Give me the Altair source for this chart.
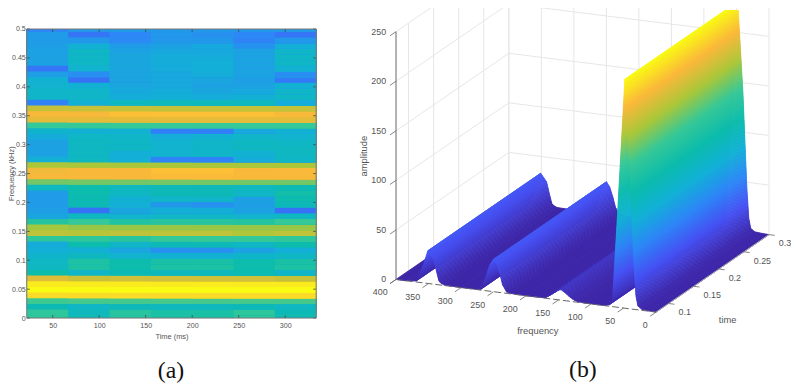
import math
import altair as alt
import pandas as pd

# ---------- values ----------
TIME_EDGES = [22.2, 66.7, 111.1, 155.6, 200.0, 244.4, 288.9, 333.3]
# one row per frequency bin (bottom to top), seven time columns
HEAT = [
    [.60, .46, .58, .54, .54, .60, .47],
    [.60, .45, .58, .54, .54, .60, .47],
    [.48, .43, .46, .45, .45, .47, .44],
    [.63, .64, .64, .64, .64, .64, .64],
    [.94, .94, .94, .94, .94, .94, .94],
    [1.0, 1.0, 1.0, 1.0, 1.0, 1.0, 1.0],
    [.97, .97, .97, .97, .97, .97, .97],
    [.83, .80, .81, .81, .81, .81, .79],
    [.50, .42, .47, .45, .45, .49, .42],
    [.44, .55, .50, .55, .55, .50, .55],
    [.43, .55, .50, .54, .54, .50, .54],
    [.41, .44, .40, .38, .38, .41, .43],
    [.37, .38, .34, .28, .28, .33, .37],
    [.36, .50, .42, .47, .47, .43, .50],
    [.60, .60, .58, .62, .62, .62, .60],
    [.78, .77, .78, .78, .78, .76, .78],
    [.74, .73, .73, .73, .73, .73, .73],
    [.57, .62, .56, .58, .58, .57, .62],
    [.34, .44, .40, .42, .42, .40, .44],
    [.32, .20, .34, .37, .37, .33, .20],
    [.31, .48, .37, .30, .28, .32, .47],
    [.31, .49, .38, .42, .42, .32, .50],
    [.31, .50, .43, .47, .47, .42, .52],
    [.44, .50, .44, .46, .46, .44, .48],
    [.69, .69, .69, .69, .69, .69, .69],
    [.87, .87, .87, .88, .88, .87, .87],
    [.86, .87, .87, .89, .89, .87, .87],
    [.75, .75, .75, .75, .75, .75, .75],
    [.37, .44, .37, .24, .24, .36, .43],
    [.33, .44, .37, .40, .42, .38, .44],
    [.33, .44, .43, .40, .42, .44, .44],
    [.33, .44, .43, .40, .42, .44, .43],
    [.36, .43, .42, .36, .39, .42, .40],
    [.41, .38, .39, .23, .23, .35, .38],
    [.62, .62, .62, .62, .62, .62, .62],
    [.84, .84, .84, .84, .84, .84, .84],
    [.87, .87, .89, .89, .89, .89, .87],
    [.79, .79, .79, .79, .79, .79, .79],
    [.24, .38, .44, .45, .45, .44, .36],
    [.42, .42, .36, .37, .36, .38, .43],
    [.42, .42, .35, .36, .34, .35, .42],
    [.40, .38, .34, .35, .33, .33, .38],
    [.38, .20, .34, .35, .34, .32, .22],
    [.32, .27, .34, .35, .36, .33, .27],
    [.21, .40, .34, .36, .37, .33, .39],
    [.33, .43, .34, .36, .37, .33, .43],
    [.33, .43, .34, .36, .36, .33, .43],
    [.33, .43, .33, .35, .35, .33, .42],
    [.32, .38, .31, .33, .35, .28, .37],
    [.31, .30, .26, .30, .30, .24, .30],
    [.31, .21, .25, .30, .28, .25, .21],
    [.24, .31, .31, .30, .30, .30, .31],
]
HEAT_X_TICKS = [50, 100, 150, 200, 250, 300]
HEAT_Y_TICKS = [0, .05, .1, .15, .2, .25, .3, .35, .4, .45, .5]

# spectrum profile of the surface (frequency, amplitude), read from its front edge
PROFILE_F = [400, 385, 369, 363, 357, 351, 342, 338, 334, 331, 326, 300, 275, 270, 263, 256, 250,
             245, 240, 236, 230, 225, 200, 172, 169, 160, 150, 146, 140, 132, 125, 121, 110, 80,
             72, 67, 60, 48, 40, 34, 31, 28, 22, 10, 0]
PROFILE_A = [0, 0, 1, 9, 20, 33, 25, 14, 4, 2, .5, 0, .2, .6, 11.6, 26, 32.7,
             28, 18, 8, 1.5, .5, 0, .3, 1, 5, 10, 10.5, 8, 4, 1.5, .7, .2, 0,
             1.5, 8, 85, 231, 140, 45, 14, 4, 1, .3, 0]
FREQ_TICKS = [0, 50, 100, 150, 200, 250, 300, 350, 400]
TIME_TICKS = [.1, .15, .2, .25, .3]
TIME_LABELS = ["0.1", "0.15", "0.2", "0.25", "0.3"]
AMP_TICKS = [0, 50, 100, 150, 200, 250]
PEAK = 231.0
T_MIN, T_MAX = 0.075, 0.3

PARULA_STOPS = [0, .125, .25, .375, .5, .625, .75, .875, 1]
PARULA = ["#3e26a8", "#4752f4", "#2d87f7", "#12b1d6", "#0cbcac", "#37c897", "#abc739", "#fbb83a", "#f9fb15"]

# ---------- helpers ----------
W, H = 791, 377
SANS = "Liberation Sans"
SERIF = "Liberation Serif"
GREY = "#555555"
color_scale = alt.Scale(domain=PARULA_STOPS, range=PARULA, interpolate="rgb")
HX = alt.Scale(domain=[TIME_EDGES[0], TIME_EDGES[-1]], range=[19.0, 311.3], nice=False, zero=False)
HY = alt.Scale(domain=[0, .5], range=[311.3, 19.3], nice=False, zero=False)
PX = alt.Scale(domain=[0, W], range=[0, W], nice=False, zero=False)
PY = alt.Scale(domain=[0, H], range=[0, H], nice=False, zero=False)


def project(f, t, z):
    """Orthographic view of the 3-D axes box, returning chart pixels."""
    x = 654.7 - 0.6568 * f + 506.7 * (t - T_MIN)
    y = 305.3 - 0.0825 * f - 348.0 * (t - T_MIN) - 1.0013 * z
    return x, y


# ---------- (a) heat map ----------
dy = 0.5 / 51
cells = []
for k, row in enumerate(HEAT):
    for c, v in enumerate(row):
        # each bin is drawn up to the top of the plot, the next one paints over it: no seams
        cells.append(dict(t0=TIME_EDGES[c], t1=TIME_EDGES[-1],
                          y0=max(0, (k - .5) * dy), y1=.5, v=v))
heat = alt.Chart(pd.DataFrame(cells)).mark_rect().encode(
    x=alt.X("t0:Q", scale=HX, axis=alt.Axis(
        values=HEAT_X_TICKS, offset=-65.7, ticks=False, domain=False, grid=False, labelPadding=4,
        labelFontSize=7.2, labelFont=SANS, labelColor=GREY, title="Time (ms)", titleFont=SANS,
        titleFontSize=7.5, titleFontWeight="normal", titleColor=GREY, titlePadding=3)),
    x2="t1:Q",
    y=alt.Y("y0:Q", scale=HY, axis=alt.Axis(
        values=HEAT_Y_TICKS, offset=-19, ticks=False, domain=False, grid=False, labelPadding=1.5,
        format="~g", labelFontSize=7.2, labelFont=SANS, labelColor=GREY, title="Frequency (kHz)",
        titleFont=SANS, titleFontSize=7.5, titleFontWeight="normal", titleColor=GREY,
        titleX=-13.6, titleY=165, titleAngle=270, titleBaseline="alphabetic", titleAlign="center")),
    y2="y1:Q",
    color=alt.Color("v:Q", scale=color_scale, legend=None),
)

FRAME = "#777777"
def heat_x_ticks(y0, y1):
    return alt.Chart(pd.DataFrame({"t": HEAT_X_TICKS})).mark_rule(color="#444444", strokeWidth=0.8).encode(
        x=alt.X("t:Q", scale=HX, axis=None), y=alt.value(y0), y2=alt.value(y1))
def heat_y_ticks(x0, x1):
    return alt.Chart(pd.DataFrame({"f": HEAT_Y_TICKS})).mark_rule(color="#444444", strokeWidth=0.8).encode(
        y=alt.Y("f:Q", scale=HY, axis=None), x=alt.value(x0), x2=alt.value(x1))
frame_h = alt.Chart(pd.DataFrame({"f": [0, .5]})).mark_rule(color=FRAME, strokeWidth=1).encode(
    y=alt.Y("f:Q", scale=HY, axis=None), x=alt.value(19), x2=alt.value(311.3))
frame_v = alt.Chart(pd.DataFrame({"t": [TIME_EDGES[0], TIME_EDGES[-1]]})).mark_rule(color=FRAME, strokeWidth=1).encode(
    x=alt.X("t:Q", scale=HX, axis=None), y=alt.value(19.3), y2=alt.value(311.3))

# ---------- (b) surface ----------
features = []
for i in range(len(PROFILE_F) - 1):
    f0, f1 = PROFILE_F[i], PROFILE_F[i + 1]
    a0, a1 = PROFILE_A[i], PROFILE_A[i + 1]
    steps = max(1, math.ceil(abs(a1 - a0) / 1.5))  # shading bands, far to near
    for s in range(steps):
        fa, fb = f0 + (f1 - f0) * s / steps, f0 + (f1 - f0) * (s + 1) / steps
        za, zb = a0 + (a1 - a0) * s / steps, a0 + (a1 - a0) * (s + 1) / steps
        ring = [project(fa, T_MIN, za), project(fb, T_MIN, zb), project(fb, T_MAX, zb), project(fa, T_MAX, za)]
        ring.append(ring[0])
        features.append({"type": "Feature", "properties": {"v": (za + zb) / 2 / PEAK},
                         "geometry": {"type": "Polygon", "coordinates": [[list(p) for p in ring]]}})
surface = alt.Chart(alt.Data(values=features)).mark_geoshape(strokeWidth=0.9).encode(
    color=alt.Color("properties.v:Q", scale=color_scale, legend=None),
    stroke=alt.Stroke("properties.v:Q", scale=color_scale, legend=None),
).project(type="identity", scale=1, translate=[0, 0])


def seg_layer(segs, color, width, dash=None):
    rows = []
    for a, b in segs:
        xa, ya = project(*a)
        xb, yb = project(*b)
        rows.append(dict(x=xa, y=ya, x2=xb, y2=yb))
    mark = dict(color=color, strokeWidth=width)
    if dash:
        mark["strokeDash"] = dash
    return alt.Chart(pd.DataFrame(rows)).mark_rule(**mark).encode(
        x=alt.X("x:Q", scale=PX, axis=None), x2="x2:Q",
        y=alt.Y("y:Q", scale=PY, axis=None), y2="y2:Q")


F_MAX, Z_MAX = FREQ_TICKS[-1], AMP_TICKS[-1]
grid_segs = []
for z in AMP_TICKS:
    grid_segs.append(((0, T_MAX, z), (F_MAX, T_MAX, z)))
    grid_segs.append(((F_MAX, T_MAX, z), (F_MAX, T_MIN, z)))
for f in FREQ_TICKS:
    grid_segs.append(((f, T_MAX, 0), (f, T_MAX, Z_MAX)))
for t in TIME_TICKS:
    grid_segs.append(((F_MAX, t, 0), (F_MAX, t, Z_MAX)))
grid = seg_layer(grid_segs, "#e6e6e6", 1)

amp_axis = seg_layer([((F_MAX, T_MIN, 0), (F_MAX, T_MIN, Z_MAX))], "#666666", 1)
freq_axis = seg_layer([((F_MAX, T_MIN, 0), (0, T_MIN, 0))], "#666666", 1, dash=[7, 3])
time_axis = seg_layer([((0, T_MIN, 0), (0, T_MAX, 0))], "#aaaaaa", 1)
tick_segs = [((F_MAX, T_MIN, z), (F_MAX, T_MIN - .012, z)) for z in AMP_TICKS]
tick_segs += [((f, T_MIN, 0), (f, T_MIN - .012, 0)) for f in FREQ_TICKS]
tick_segs += [((0, t, 0), (-9, t, 0)) for t in TIME_TICKS]
ticks3d = seg_layer(tick_segs, "#666666", 0.8)


def text_layer(rows, align, size=9, font=SANS, color=GREY, angle=0):
    return alt.Chart(pd.DataFrame(rows)).mark_text(
        align=align, baseline="middle", fontSize=size, font=font, color=color, angle=angle).encode(
        x=alt.X("x:Q", scale=PX, axis=None), y=alt.Y("y:Q", scale=PY, axis=None), text="s:N")


freq_rows = []
for f in FREQ_TICKS:
    x, y = project(f, T_MIN, 0)
    freq_rows.append(dict(x=x - 8.5, y=y + 13.2, s=str(f)))
amp_rows = []
for z in AMP_TICKS:
    x, y = project(F_MAX, T_MIN, z)
    amp_rows.append(dict(x=x - 10, y=y, s=str(z)))
time_rows = []
for t, s in zip(TIME_TICKS, TIME_LABELS):
    x, y = project(0, t, 0)
    time_rows.append(dict(x=x + 10, y=y + 9, s=s))

layers = [
    heat, heat_x_ticks(311.3, 308.3), heat_x_ticks(19.3, 22.3), heat_y_ticks(19, 22), heat_y_ticks(311.3, 308.3),
    frame_h, frame_v,
    grid, surface, amp_axis, freq_axis, time_axis, ticks3d,
    text_layer(freq_rows, "right"), text_layer(amp_rows, "right"), text_layer(time_rows, "left"),
    text_layer([dict(x=535.3, y=324, s="frequency"), dict(x=727, y=313, s="time")], "center", size=9.5),
    text_layer([dict(x=359.3, y=147.7, s="amplitude")], "center", size=9.5, angle=270),
    text_layer([dict(x=164.7, y=364.5, s="(a)"), dict(x=580.7, y=363.7, s="(b)")], "center", size=24,
               font=SERIF, color="#111111"),
]

chart = alt.layer(*layers).resolve_scale(x="independent", y="independent", color="shared", stroke="shared").properties(
    width=W, height=H, padding=0, autosize=alt.AutoSizeParams(type="none"), background="white"
).configure_view(stroke=None)

chart.save("out.html", embed_options={"renderer": "svg", "actions": False})
